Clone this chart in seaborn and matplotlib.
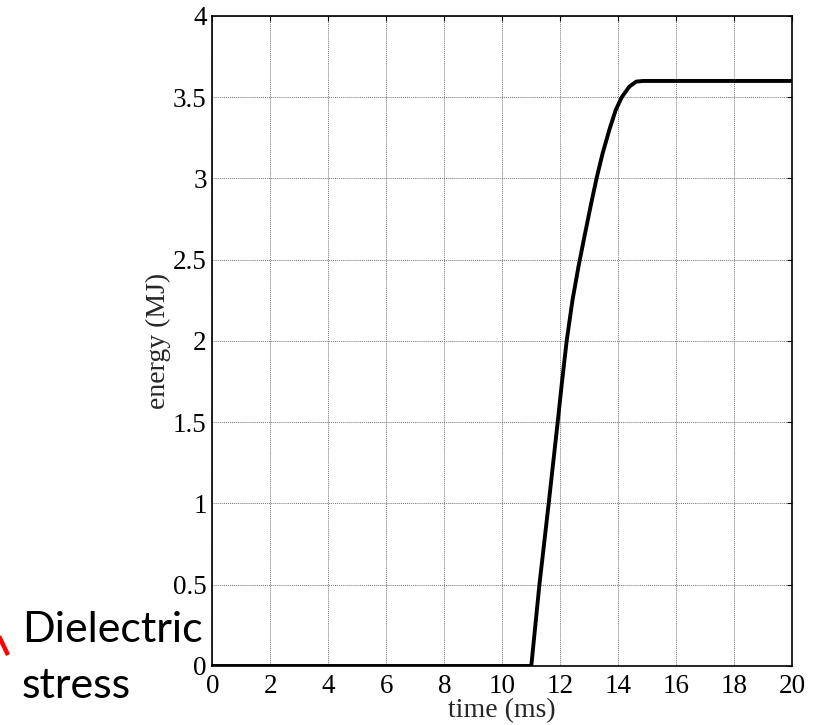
import matplotlib
matplotlib.use("Agg")
import matplotlib.pyplot as plt
from matplotlib.lines import Line2D
import seaborn as sns
import pandas as pd

# Energy deposited versus time
time_ms = [0.0, 11.0, 11.28, 11.6, 11.91, 12.06, 12.22, 12.42, 12.63, 12.83,
           13.07, 13.25, 13.46, 13.71, 13.91, 14.12, 14.38, 14.62, 14.86, 20.0]
energy_mj = [0.0, 0.0, 0.5, 1.0, 1.5, 1.75, 2.0, 2.25, 2.46, 2.64,
             2.85, 3.0, 3.155, 3.31, 3.42, 3.5, 3.565, 3.596, 3.6, 3.6]

x_ticks = [0, 2, 4, 6, 8, 10, 12, 14, 16, 18, 20]
y_ticks = [0, 0.5, 1, 1.5, 2, 2.5, 3, 3.5, 4]
y_tick_labels = ["0", "0.5", "1", "1.5", "2", "2.5", "3", "3.5", "4"]

x_label = "time (ms)"
y_label = "energy (MJ)"
note_lines = ["Dielectric", "stress"]

sns.set_style("white")
plt.rcParams["font.family"] = ["Liberation Serif", "DejaVu Serif"]

df = pd.DataFrame({"time": time_ms, "energy": energy_mj})

fig = plt.figure(figsize=(8.21, 7.25), dpi=100)
ax = fig.add_axes([0.2586, 0.0814, 0.7064, 0.8966])

sns.lineplot(data=df, x="time", y="energy", ax=ax, color="black",
             linewidth=2.8, sort=False, estimator=None)

ax.set_xlim(0, 20)
ax.set_ylim(0, 4)
ax.set_xticks(x_ticks)
ax.set_xticklabels([str(t) for t in x_ticks])
ax.set_yticks(y_ticks)
ax.set_yticklabels(y_tick_labels)

ax.grid(True, color="0.45", linestyle=(0, (1, 1)), linewidth=0.7)
ax.tick_params(direction="in", length=3.6, width=0.8, top=True, right=True,
               labelsize=19.5, colors="black", pad=4)
ax.tick_params(axis="x", pad=6)
for sp in ax.spines.values():
    sp.set_visible(True)
    sp.set_color("black")
    sp.set_linewidth(1.2)

ax.set_xlabel(x_label, fontsize=20, labelpad=-1)
ax.set_ylabel(y_label, fontsize=20, labelpad=1)

# Side annotation
fig.text(22 / 821, 1 - 642 / 725, note_lines[0], family="Lato", fontsize=31,
         ha="left", va="baseline", color="black")
fig.text(22 / 821, 1 - 698 / 725, note_lines[1], family="Lato", fontsize=31,
         ha="left", va="baseline", color="black")
fig.add_artist(Line2D([-4 / 821, 8 / 821], [1 - 630 / 725, 1 - 655 / 725],
                      transform=fig.transFigure, color="red", linewidth=3.2,
                      solid_capstyle="butt"))

fig.savefig("out.png", dpi=100, facecolor="white")
